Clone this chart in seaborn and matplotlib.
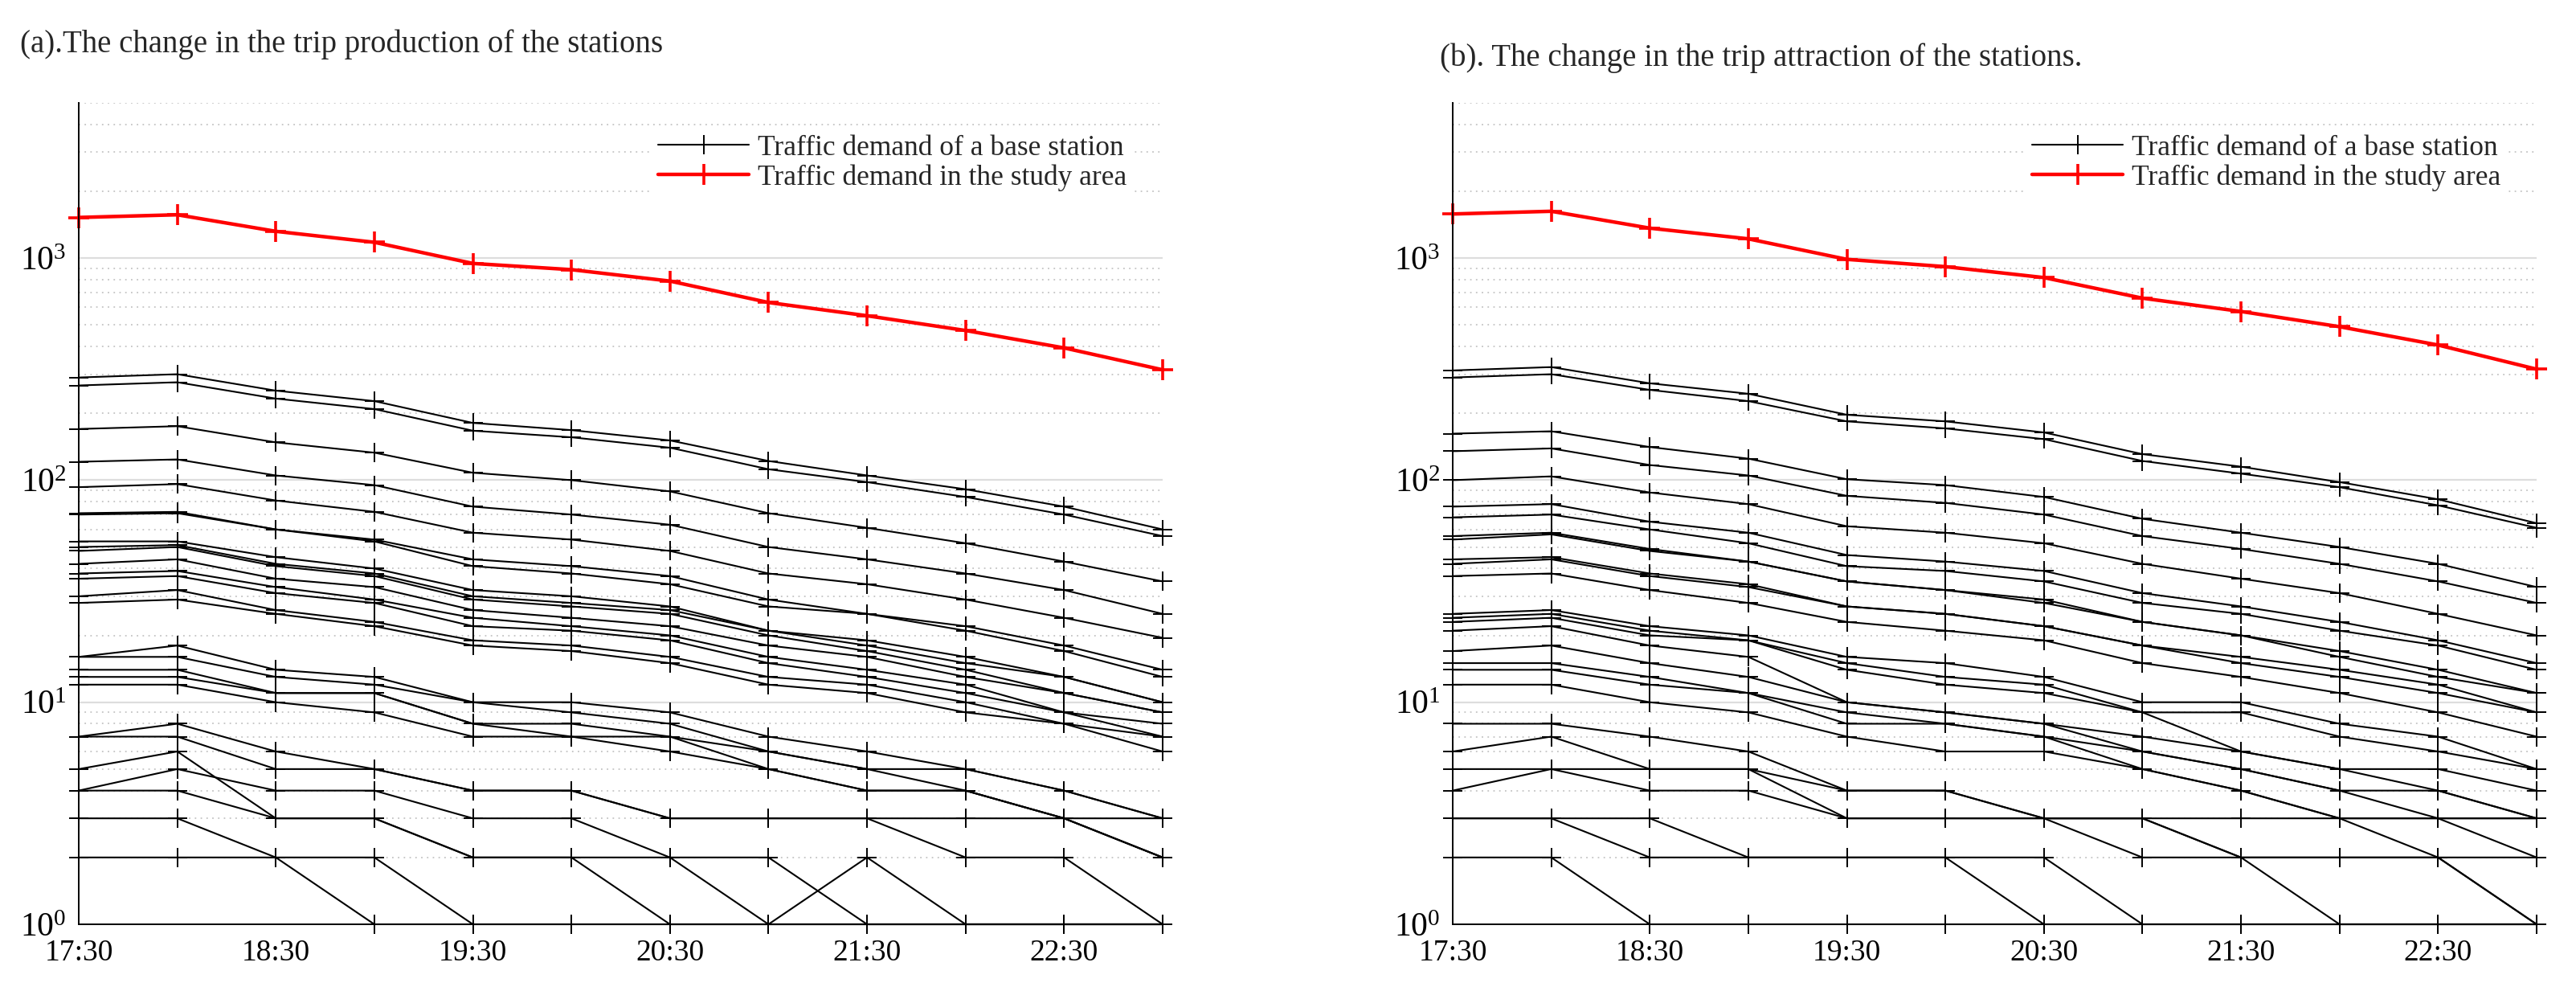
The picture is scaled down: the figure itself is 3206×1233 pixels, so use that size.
import numpy as np
import pandas as pd
import seaborn as sns
import matplotlib
matplotlib.use("Agg")
import matplotlib.pyplot as plt
from matplotlib.ticker import LogLocator, NullFormatter, FixedLocator

# time slots (half-hourly) and the labelled ticks
times = ["17:30", "18:00", "18:30", "19:00", "19:30", "20:00",
         "20:30", "21:00", "21:30", "22:00", "22:30", "23:00"]
tick_labels = ["17:30", "18:30", "19:30", "20:30", "21:30", "22:30"]

legend_labels = ["Traffic demand of a base station",
                 "Traffic demand in the study area"]
title_a = "(a).The change in the trip production of the stations"
title_b = "(b). The change in the trip attraction of the stations."

# (a) trip production, one list per base station
a01 = [290, 300, 253, 227, 181, 168, 151, 122, 105, 91, 76, 60]
a02 = [267, 276, 233, 209, 167, 156, 140, 112, 98, 84, 70, 56]
a03 = [170, 175, 148, 133, 108, 100, 89, 71, 61, 52, 43, 35]
a04 = [121, 124, 105, 95, 76, 70, 63, 50, 44, 38, 32, 25]
a05 = [93, 96, 81, 72, 58, 54, 48, 38, 34, 29, 24, 19.5]
a06 = [71, 72, 60, 54, 44, 41, 37, 29, 25, 22, 18, 14]
a07 = [70, 71, 60, 53, 41, 38, 34, 27, 25, 21, 17, 13]
a08 = [53, 53, 45, 40, 32, 30, 27, 21, 19, 16, 13, 10]
a09 = [50, 51, 42, 38, 30, 28, 26, 21, 18, 15, 13, 10]
a10 = [48, 50, 41, 37, 29, 27, 25, 20, 17, 14, 11, 9]
a11 = [42, 44, 36, 33, 26, 24, 22, 18, 16, 13, 11, 9]
a12 = [38, 39, 33, 29, 24, 22, 20, 16, 14, 12, 9, 8]
a13 = [36, 37, 31, 28, 22, 21, 19, 15, 13, 11, 9, 7]
a14 = [30, 32, 26, 23, 19, 18, 16, 13, 12, 10, 8, 7]
a15 = [28, 29, 25, 22, 18, 17, 15, 12, 11, 9, 8, 6]
a16 = [16, 18, 14, 13, 10, 10, 9, 7, 6, 5, 4, 3]
a17 = [16, 16, 13, 12, 10, 9, 8, 6, 5, 5, 4, 3]
a18 = [14, 14, 11, 11, 8, 8, 7, 6, 5, 4, 3, 3]
a19 = [13, 13, 11, 11, 8, 7, 7, 5, 4, 4, 3, 2]
a20 = [12, 12, 10, 9, 7, 7, 6, 5, 4, 4, 3, 2]
a21 = [7, 8, 6, 5, 4, 4, 3, 3, 3, 2, 2, 1]
a22 = [7, 7, 5, 5, 4, 4, 3, 3, 3, 3, 3, 2]
a23 = [5, 6, 3, 3, 2, 2, 1, 1, 1, 1, 1, 1]
a24 = [4, 5, 4, 4, 3, 3, 2, 2, 1, 1, 1, 1]
a25 = [4, 4, 3, 3, 2, 2, 2, 1, 2, 1, 1, 1]
a26 = [3, 3, 2, 2, 1, 1, 1, 1, 1, 1, 1, 1]
a27 = [2, 2, 2, 1, 1, 1, 1, 1, 1, 1, 1, 1]
production_total = [1524, 1567, 1320, 1178, 946, 887, 788, 631, 550, 472, 394, 314]

# (b) trip attraction, one list per base station
b01 = [312, 323, 273, 245, 197, 184, 164, 131, 115, 98, 82, 64]
b02 = [290, 300, 255, 227, 184, 171, 153, 122, 107, 93, 77, 61]
b03 = [162, 166, 141, 125, 101, 95, 84, 67, 58, 50, 42, 33]
b04 = [135, 139, 117, 105, 85, 79, 70, 56, 49, 42, 35, 28]
b05 = [100, 104, 88, 78, 62, 58, 52, 42, 36, 31, 25, 20]
b06 = [76, 78, 65, 58, 46, 43, 39, 31, 27, 23, 19, 15]
b07 = [68, 70, 60, 52, 41, 39, 35, 28, 25, 21, 18, 14]
b08 = [56, 58, 49, 43, 35, 32, 29, 23, 20, 17, 14, 11]
b09 = [54, 57, 48, 43, 35, 32, 28, 23, 20, 16, 13, 11]
b10 = [44, 45, 38, 34, 27, 25, 22, 18, 16, 14, 12, 9]
b11 = [42, 44, 37, 33, 27, 25, 22, 18, 15, 13, 11, 9]
b12 = [37, 38, 32, 28, 23, 21, 19, 15, 13, 11, 9, 7]
b13 = [25, 26, 22, 20, 16, 15, 13, 10, 10, 8, 7, 5]
b14 = [24, 25, 21, 19, 15, 13, 12, 9, 9, 7, 6, 5]
b15 = [23, 24, 20, 19, 14, 12, 11, 9, 6, 5, 5, 4]
b16 = [21, 22, 18, 16, 10, 9, 8, 7, 6, 5, 4, 3]
b17 = [17, 18, 15, 13, 10, 9, 8, 6, 5, 4, 4, 3]
b18 = [15, 15, 13, 11, 9, 8, 7, 6, 5, 4, 3, 3]
b19 = [14, 14, 12, 11, 8, 8, 7, 5, 4, 3, 3, 2]
b20 = [12, 12, 10, 9, 7, 6, 6, 5, 4, 3, 2, 2]
b21 = [8, 8, 7, 6, 4, 4, 3, 3, 2, 2, 2, 1]
b22 = [6, 7, 5, 5, 4, 4, 3, 3, 3, 3, 3, 3]
b23 = [5, 5, 4, 4, 3, 3, 3, 3, 2, 2, 2, 1]
b24 = [4, 5, 5, 5, 3, 3, 3, 2, 2, 1, 1, 1]
b25 = [3, 3, 3, 2, 2, 2, 2, 1, 1, 1, 1, 1]
b26 = [3, 3, 2, 2, 2, 2, 1, 1, 1, 1, 1, 1]
b27 = [2, 2, 1, 1, 1, 1, 1, 1, 1, 1, 1, 1]
attraction_total = [1580, 1625, 1364, 1221, 987, 915, 817, 660, 575, 491, 406, 316]

production = [a01, a02, a03, a04, a05, a06, a07, a08, a09, a10, a11, a12, a13, a14,
              a15, a16, a17, a18, a19, a20, a21, a22, a23, a24, a25, a26, a27]
attraction = [b01, b02, b03, b04, b05, b06, b07, b08, b09, b10, b11, b12, b13, b14,
              b15, b16, b17, b18, b19, b20, b21, b22, b23, b24, b25, b26, b27]

sns.set_theme(style="white")
plt.rcParams["font.family"] = ["Liberation Serif", "DejaVu Serif"]
plt.rcParams["mathtext.fontset"] = "custom"
plt.rcParams["mathtext.rm"] = "Liberation Serif"
plt.rcParams["mathtext.it"] = "Liberation Serif:italic"


def to_long(stations):
    rows = []
    for i, vals in enumerate(stations):
        for j, v in enumerate(vals):
            rows.append({"station": i, "slot": j, "demand": v})
    return pd.DataFrame(rows)


def draw_panel(ax, stations, total):
    df = to_long(stations)
    sns.lineplot(data=df, x="slot", y="demand", units="station", estimator=None,
                 color="black", lw=1.5, marker="+", ms=17, mec="black", mew=1.4,
                 ax=ax, legend=False, clip_on=False)
    black_line = ax.lines[0]
    sns.lineplot(x=list(range(len(times))), y=total, color="red", lw=3.2,
                 marker="+", ms=19, mec="red", mew=2.6, ax=ax, legend=False,
                 clip_on=False)
    red_line = ax.lines[-1]

    ax.set_yscale("log")
    ax.set_ylim(1, 5000)
    ax.set_xlim(0, len(times) - 1)
    ax.xaxis.set_major_locator(FixedLocator([times.index(t) for t in tick_labels]))
    ax.set_xticklabels(tick_labels)
    ax.yaxis.set_major_locator(LogLocator(base=10, numticks=10))
    ax.yaxis.set_minor_locator(LogLocator(base=10, subs=np.arange(2, 10), numticks=20))
    ax.yaxis.set_minor_formatter(NullFormatter())
    ax.set_xlabel("")
    ax.set_ylabel("")

    ax.grid(False)
    ax.yaxis.grid(True, which="major", color="#dddddd", lw=1.6, ls="-")
    ax.yaxis.grid(True, which="minor", color="#c4c4c4", lw=1.3, ls=(0, (1, 3)))
    ax.set_axisbelow(True)

    for side in ["top", "right"]:
        ax.spines[side].set_visible(False)
    for side in ["left", "bottom"]:
        ax.spines[side].set_color("black")
        ax.spines[side].set_linewidth(1.4)

    ax.tick_params(axis="x", which="major", direction="in", length=12, width=1.2,
                   pad=13, labelsize=27, colors="black")
    ax.tick_params(axis="y", which="major", direction="in", length=12, width=1.2,
                   pad=11, labelsize=30, colors="black")
    ax.tick_params(axis="y", which="minor", length=0)

    leg = ax.legend([black_line, red_line], legend_labels, loc="upper right",
                    bbox_to_anchor=(0.972, 0.968), borderaxespad=0, borderpad=0.2,
                    frameon=True, facecolor="white", edgecolor="none", framealpha=1,
                    fontsize=25.5, handlelength=3.2, handletextpad=0.3,
                    labelspacing=0.1, fancybox=False)
    leg.get_frame().set_linewidth(0)


fig = plt.figure(figsize=(32.06, 12.33), dpi=100)
ax_a = fig.add_axes([98 / 3206, 83 / 1233, 1349 / 3206, 1022 / 1233])
ax_b = fig.add_axes([1808 / 3206, 83 / 1233, 1349 / 3206, 1022 / 1233])

draw_panel(ax_a, production, production_total)
draw_panel(ax_b, attraction, attraction_total)

fig.text(25 / 3206, 1 - 65 / 1233, title_a, fontsize=28, va="baseline", ha="left")
fig.text(1792 / 3206, 1 - 82 / 1233, title_b, fontsize=28, va="baseline", ha="left")

fig.savefig("out.png", dpi=100, facecolor="white")
